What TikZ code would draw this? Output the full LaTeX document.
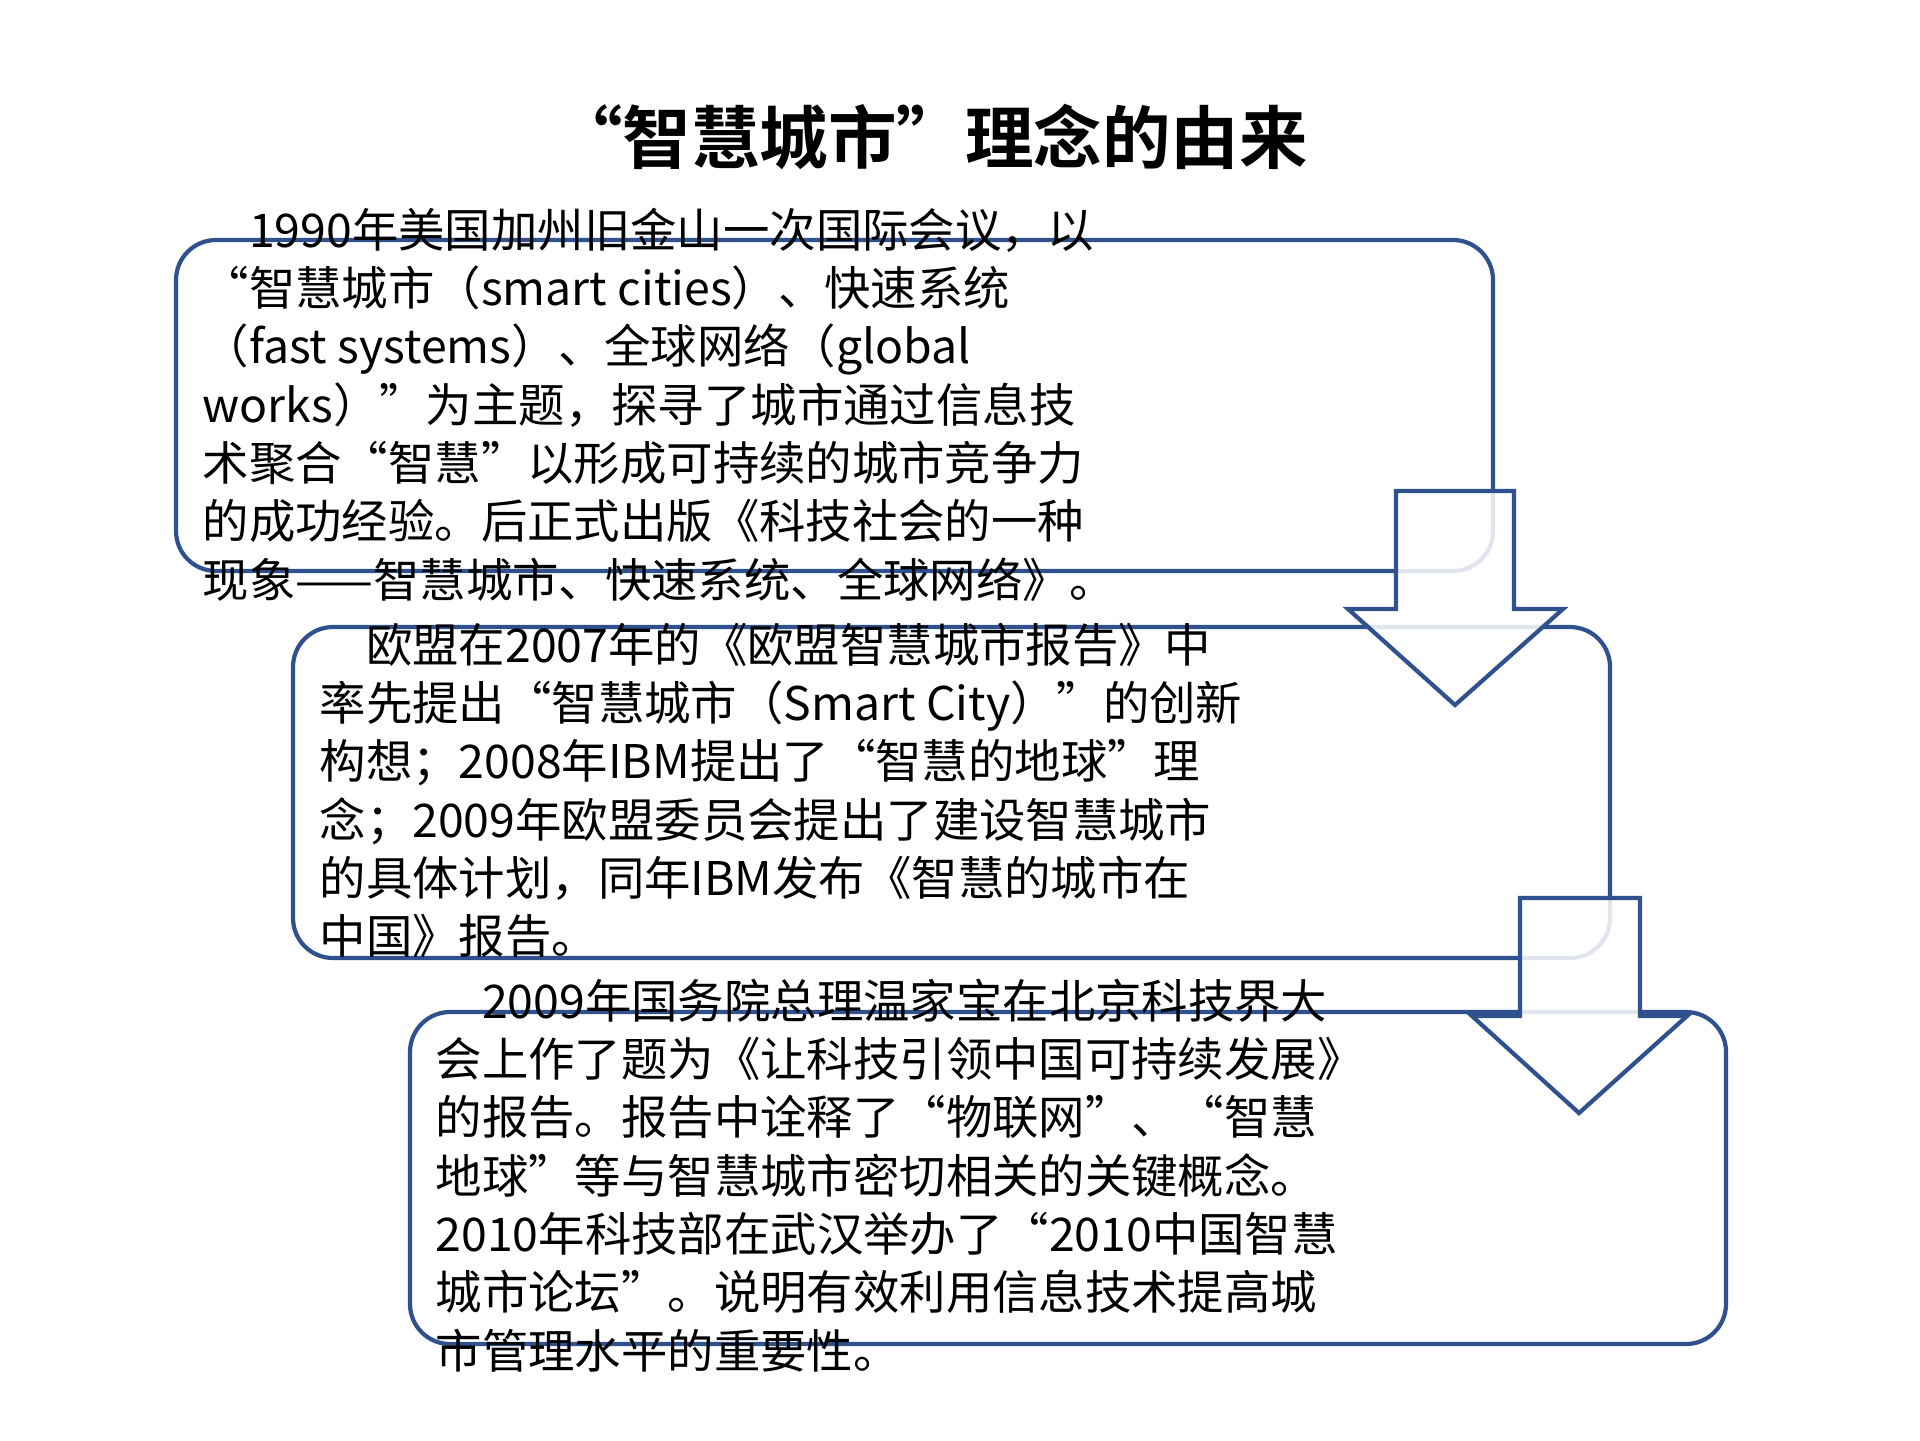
\documentclass[tikz,border=0pt]{standalone}
\usepackage{fontspec}
\setmainfont{Noto Sans CJK SC}
\newfontfamily\titlefont{Noto Sans CJK SC Bold}
\begin{document}
\begin{tikzpicture}[x=1cm,y=1cm,
  box/.style={draw=boxblue,line width=1.2pt,rounded corners=0.4cm},
  arr/.style={draw=boxblue,line width=1.2pt,fill=white,fill opacity=0.85,line join=miter},
  txt/.style={anchor=north west,align=left,inner sep=0pt,font=\fontsize{13.2pt}{16.6pt}\selectfont}]
\definecolor{boxblue}{HTML}{2F528F}
\useasboundingbox (0,0) rectangle (19.2,-14.4);
\node[font=\titlefont\fontsize{19.5pt}{22pt}\selectfont] (title) at (9.31,-1.37) {“智慧城市”理念的由来};
\draw[box] (1.76,-2.40) rectangle (14.93,-5.71);
\draw[box] (2.93,-6.27) rectangle (16.10,-9.58);
\draw[arr] (13.96,-4.91) -- (15.14,-4.91) -- (15.14,-6.09) -- (15.63,-6.09) -- (14.55,-7.05) -- (13.48,-6.09) -- (13.96,-6.09) -- cycle;
\draw[box] (4.10,-10.12) rectangle (17.26,-13.44);
\draw[arr] (15.20,-8.98) -- (16.40,-8.98) -- (16.40,-10.16) -- (16.87,-10.16) -- (15.79,-11.13) -- (14.72,-10.16) -- (15.20,-10.16) -- cycle;
\node[txt] (t1) at (2.02,-2.07) {\hspace{1em}1990年美国加州旧金山一次国际会议，以\\
“智慧城市（smart cities）、快速系统\\
（fast systems）、全球网络（global\\
works）”为主题，探寻了城市通过信息技\\
术聚合“智慧”以形成可持续的城市竞争力\\
的成功经验。后正式出版《科技社会的一种\\
现象——智慧城市、快速系统、全球网络》。};
\node[txt] (t2) at (3.19,-6.22) {\hspace{1em}欧盟在2007年的《欧盟智慧城市报告》中\\
率先提出“智慧城市（Smart City）”的创新\\
构想；2008年IBM提出了“智慧的地球”理\\
念；2009年欧盟委员会提出了建设智慧城市\\
的具体计划，同年IBM发布《智慧的城市在\\
中国》报告。};
\node[txt] (t3) at (4.35,-9.78) {\hspace{1em}2009年国务院总理温家宝在北京科技界大\\
会上作了题为《让科技引领中国可持续发展》\\
的报告。报告中诠释了“物联网”、“智慧\\
地球”等与智慧城市密切相关的关键概念。\\
2010年科技部在武汉举办了“2010中国智慧\\
城市论坛”。说明有效利用信息技术提高城\\
市管理水平的重要性。};
\end{tikzpicture}
\end{document}
